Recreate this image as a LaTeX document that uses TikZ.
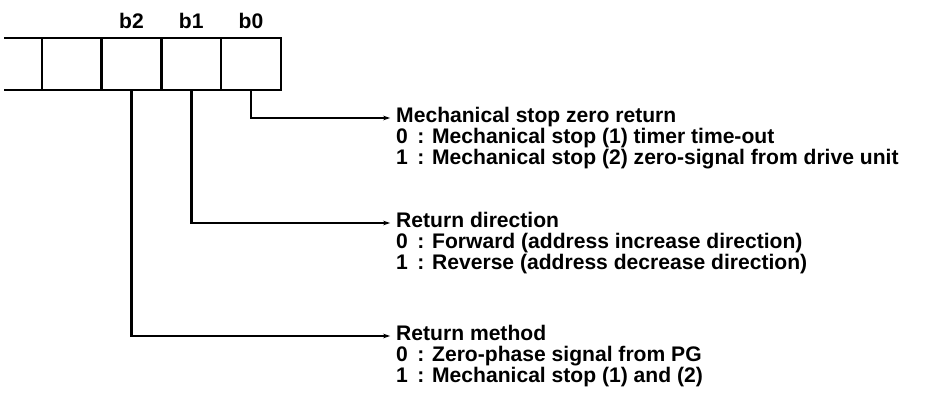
\documentclass[tikz,border=0pt]{standalone}
\usepackage{fontspec}
\setmainfont{Liberation Sans}
\usetikzlibrary{positioning,arrows.meta}

\begin{document}
\begin{tikzpicture}[x=0.03cm,y=-0.03cm,>={Stealth[length=6pt,width=4pt]},font=\fontsize{18}{21}\selectfont\bfseries]
  \tikzstyle{cell}=[draw, line width=2.2pt, minimum width=1.791cm, minimum height=1.56cm, inner sep=0pt, outer sep=0pt]
  \tikzstyle{bitlabel}=[inner sep=0pt, text depth=0pt]
  \tikzstyle{link}=[line width=2.2pt, ->, shorten >=5pt]
  \tikzstyle{head}=[anchor=west, text height=0.72em, text depth=0pt, inner sep=0pt]
  \tikzstyle{choice}=[anchor=base west, inner sep=0pt]

  \path[use as bounding box] (0,0) rectangle (942,405);

  % Register: one open cell on the left, then b2, b1, b0.
  \node[cell, anchor=north west] (bit3) at (42,38) {};
  \node[cell, right=0pt of bit3] (bit2) {};
  \node[cell, right=0pt of bit2] (bit1) {};
  \node[cell, right=0pt of bit1] (bit0) {};
  \draw[line width=2.2pt] (bit3.north west) -- ++(-38,0);
  \draw[line width=2.2pt] (bit3.south west) -- ++(-38,0);

  \foreach \b in {0,1,2} {
    \node[bitlabel, above=8pt of bit\b] (lab\b) {b\b};
  }

  % Meaning of each bit.
  \foreach \b/\yy/\hd/\txtzero/\txtone in {
    0/118/{Mechanical stop zero return}/{Mechanical stop (1) timer time-out}/{Mechanical stop (2) zero-signal from drive unit},
    1/223/{Return direction}/{Forward (address increase direction)}/{Reverse (address decrease direction)},
    2/336/{Return method}/{Zero-phase signal from PG}/{Mechanical stop (1) and (2)}
  } {
    \node[head] (head\b) at (396,\yy) {\hd};
    \node[choice] (zero\b) at ([yshift=-0.63cm]head\b.south west) {0\ \,: \txtzero};
    \node[choice] (one\b) at ([yshift=-0.63cm]zero\b.base west) {1\ \,: \txtone};
    \draw[link] (bit\b.south) |- (head\b.west);
  }
\end{tikzpicture}
\end{document}
